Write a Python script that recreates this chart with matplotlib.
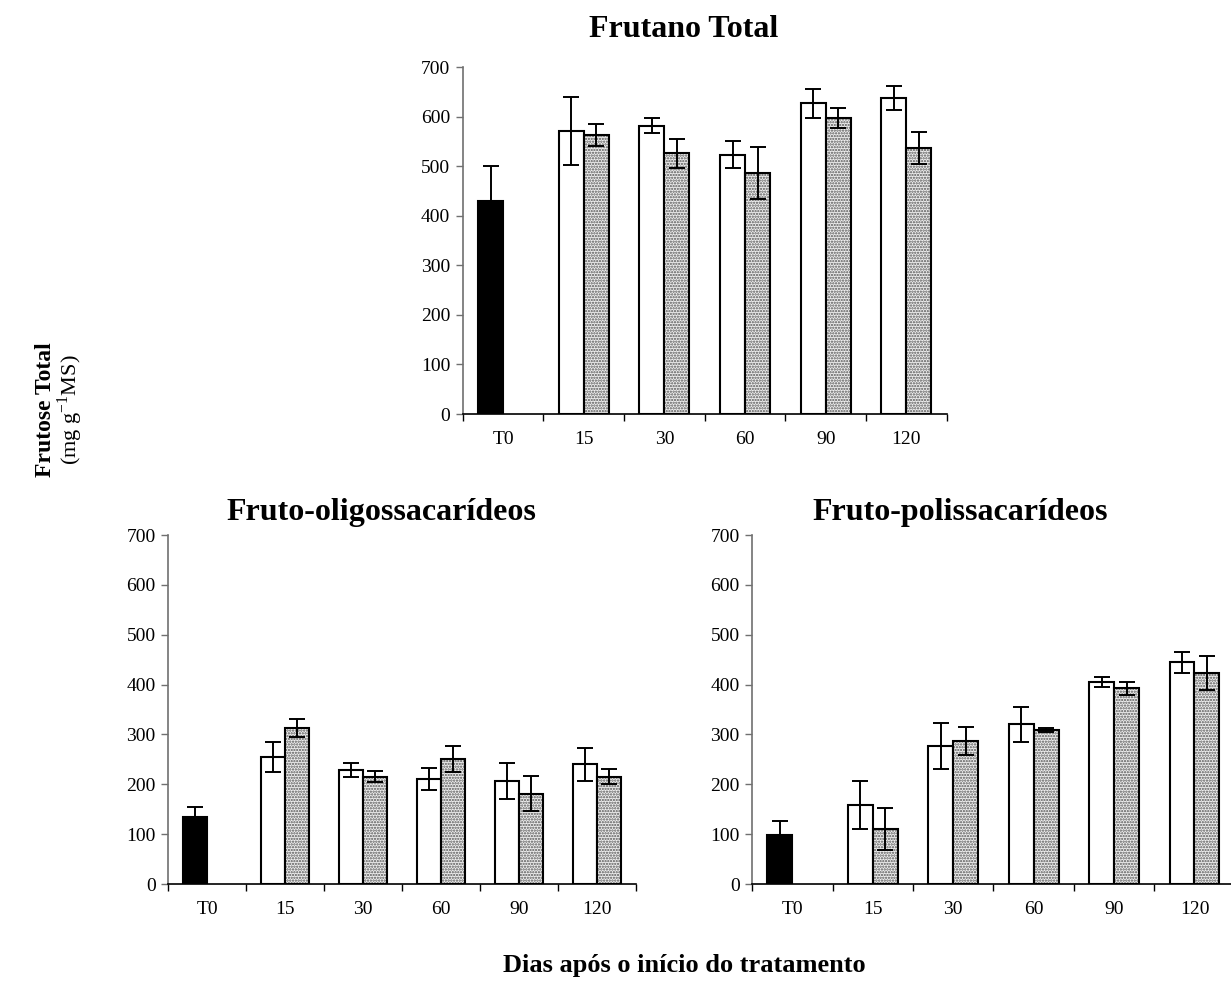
import numpy as np
import matplotlib
matplotlib.use("Agg")
import matplotlib.pyplot as plt
from matplotlib.ticker import FixedLocator, MultipleLocator

plt.rcParams.update({
    "font.family": "Liberation Serif",
    "mathtext.fontset": "custom",
    "mathtext.rm": "Liberation Serif",
    "hatch.linewidth": 1.1,
})

# ─── Data ─────────────────────────────────────────────────────────────────────
days = ["T0", "15", "30", "60", "90", "120"]

total_t0, total_t0_err = 430, 70
total_a = [571, 582, 523, 627, 637]
total_a_err = [68, 16, 27, 29, 24]
total_b = [563, 526, 486, 597, 537]
total_b_err = [23, 29, 52, 20, 32]

oligo_t0, oligo_t0_err = 135, 19
oligo_a = [255, 229, 211, 207, 240]
oligo_a_err = [30, 14, 22, 36, 33]
oligo_b = [313, 215, 251, 181, 215]
oligo_b_err = [19, 11, 26, 35, 15]

poly_t0, poly_t0_err = 98, 28
poly_a = [159, 277, 320, 405, 445]
poly_a_err = [48, 46, 35, 10, 21]
poly_b = [111, 287, 309, 393, 423]
poly_b_err = [42, 28, 4, 13, 34]

W = 0.31
DOT_FACE = "#eeeeee"
DOT_HATCH = "#555555"
AXIS_GREY = "#707070"


def panel(ax, t0, t0_err, a, a_err, b, b_err):
    x = np.arange(1, len(days))
    kw = dict(width=W, linewidth=1.5, zorder=2)
    # baseline sample
    ax.bar(-W / 2, t0, color="black", edgecolor="black", **kw)
    # open bars
    ax.bar(x - W / 2, a, color="white", edgecolor="black", **kw)
    # dotted bars: hatch layer first, then the black outline on top
    ax.bar(x + W / 2, b, color=DOT_FACE, edgecolor=DOT_HATCH, hatch="......",
           width=W, linewidth=0, zorder=2)
    ax.bar(x + W / 2, b, fill=False, edgecolor="black", **kw)

    ekw = dict(fmt="none", ecolor="black", elinewidth=1.4, capsize=5.5,
               capthick=1.4, zorder=3)
    ax.errorbar([-W / 2], [t0], yerr=[t0_err], **ekw)
    ax.errorbar(x - W / 2, a, yerr=a_err, **ekw)
    ax.errorbar(x + W / 2, b, yerr=b_err, **ekw)

    ax.set_xlim(-0.5, len(days) - 0.5)
    ax.set_ylim(0, 700)
    ax.yaxis.set_major_locator(MultipleLocator(100))
    ax.set_xticks(np.arange(len(days)))
    ax.set_xticklabels(days)
    ax.xaxis.set_minor_locator(FixedLocator(np.arange(-0.5, len(days), 1.0)))
    ax.tick_params(axis="x", which="major", length=0, pad=12, labelsize=14)
    ax.tick_params(axis="x", which="minor", length=5, width=1, direction="out")
    ax.tick_params(axis="y", length=5, width=1, direction="out", labelsize=14,
                   color=AXIS_GREY, pad=4)
    for s in ("top", "right"):
        ax.spines[s].set_visible(False)
    ax.spines["left"].set_color(AXIS_GREY)
    ax.spines["left"].set_linewidth(1.2)
    ax.spines["bottom"].set_linewidth(1.2)


fig = plt.figure(figsize=(12.31, 9.83), dpi=100)

ax_top = fig.add_axes([0.376, 0.5788, 0.393, 0.353])
ax_ol = fig.add_axes([0.1365, 0.1007, 0.380, 0.355])
ax_po = fig.add_axes([0.6110, 0.1007, 0.392, 0.355])

panel(ax_top, total_t0, total_t0_err, total_a, total_a_err, total_b, total_b_err)
panel(ax_ol, oligo_t0, oligo_t0_err, oligo_a, oligo_a_err, oligo_b, oligo_b_err)
panel(ax_po, poly_t0, poly_t0_err, poly_a, poly_a_err, poly_b, poly_b_err)

tkw = dict(ha="center", va="baseline", fontsize=23, fontweight="bold")
fig.text(0.555, 0.9624, "Frutano Total", **tkw)
fig.text(0.310, 0.471, "Fruto-oligossacarídeos", **tkw)
fig.text(0.780, 0.471, "Fruto-polissacarídeos", **tkw)

fig.text(0.037, 0.583, "Frutose Total", rotation=90, ha="center", va="center",
         fontsize=17, fontweight="bold")
fig.text(0.057, 0.583, r"(mg g$^{\mathregular{-1}}$MS)", rotation=90,
         ha="center", va="center", fontsize=16)
fig.text(0.556, 0.018, "Dias após o início do tratamento", ha="center",
         va="center", fontsize=19, fontweight="bold")

fig.savefig("out.png", dpi=100)
